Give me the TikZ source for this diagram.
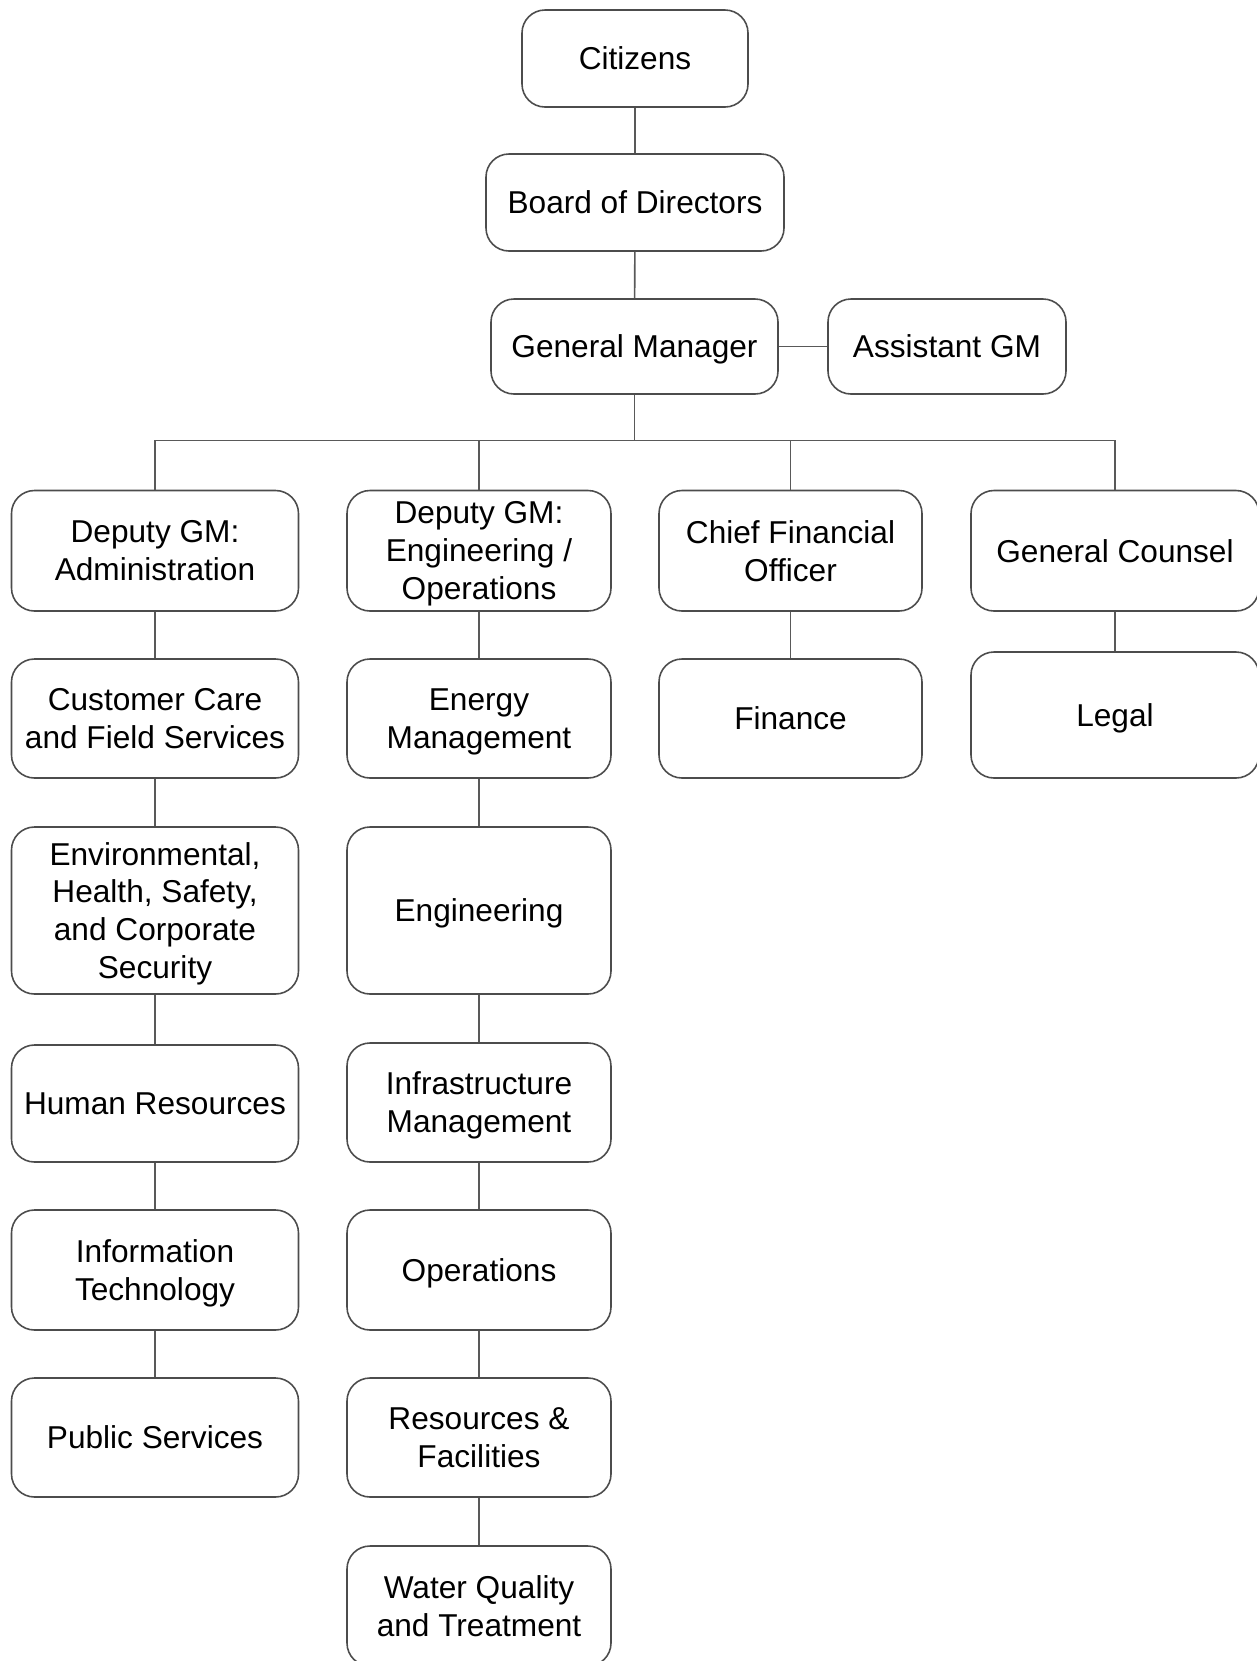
\documentclass[tikz,border=0pt]{standalone}
\usepackage{fontspec}
\setmainfont{Liberation Sans}
\tikzset{
  org/.style={draw=black!70, line width=0.9pt, rounded corners=0.46cm, align=center,
    inner sep=0pt, text depth=0pt, font=\fontsize{18}{21.6}\selectfont},
  link/.style={draw=black!65, line width=0.9pt}
}
\newcommand{\bx}[6]{\node[org, minimum width=#4*0.02cm, minimum height=#5*0.02cm] (#1) at (#2,#3) {#6};}
\begin{document}
\begin{tikzpicture}[x=0.02cm, y=-0.02cm]
\useasboundingbox (0,0) rectangle (1257,1661);
\clip (0,0) rectangle (1257,1661);
\bx{cit}{635}{58.5}{226}{97}{Citizens}
\bx{bod}{635}{202.5}{298}{97}{Board of Directors}
\bx{gm}{634.5}{346.5}{287}{95}{General Manager}
\bx{agm}{947}{346.5}{238}{95}{Assistant GM}
% row 1
\bx{d1}{155}{550.75}{287}{120.5}{Deputy GM:\\Administration}
\bx{d2}{479}{550.75}{264}{120.5}{Deputy GM:\\Engineering /\\Operations}
\bx{d3}{790.5}{550.75}{263}{120.5}{Chief Financial\\Officer}
\bx{d4}{1115}{550.75}{288}{120.5}{General Counsel}
% column 1
\bx{cc}{155}{718.5}{287}{119}{Customer Care\\and Field Services}
\bx{env}{155}{910.5}{287}{167}{Environmental,\\Health, Safety,\\and Corporate\\Security}
\bx{hr}{155}{1103.5}{287}{117}{Human Resources}
\bx{it}{155}{1270}{287}{120}{Information\\Technology}
\bx{ps}{155}{1437.5}{287}{119}{Public Services}
% column 2
\bx{em}{479}{718.5}{264}{119}{Energy\\Management}
\bx{eng}{479}{910.5}{264}{167}{Engineering}
\bx{im}{479}{1102.5}{264}{119}{Infrastructure\\Management}
\bx{ops}{479}{1270}{264}{120}{Operations}
\bx{rf}{479}{1437.5}{264}{119}{Resources \&\\Facilities}
\bx{wq}{479}{1606}{264}{120}{Water Quality\\and Treatment}
% column 3 and 4
\bx{fin}{790.5}{718.5}{263}{119}{Finance}
\bx{leg}{1115}{715}{288}{126}{Legal}
% connectors
\coordinate (bus) at (634.5,440.5);
\draw[link] (cit) -- (bod);
\draw[link] (bod) -- (gm);
\draw[link] (gm) -- (agm);
\draw[link] (gm) -- (bus);
\draw[link] (d1) |- (bus) -| (d4);
\draw[link] (d2) -- (d2 |- bus);
\draw[link] (d3) -- (d3 |- bus);
\draw[link] (d1) -- (cc) -- (env) -- (hr) -- (it) -- (ps);
\draw[link] (d2) -- (em) -- (eng) -- (im) -- (ops) -- (rf) -- (wq);
\draw[link] (d3) -- (fin);
\draw[link] (d4) -- (leg);
\end{tikzpicture}
\end{document}
